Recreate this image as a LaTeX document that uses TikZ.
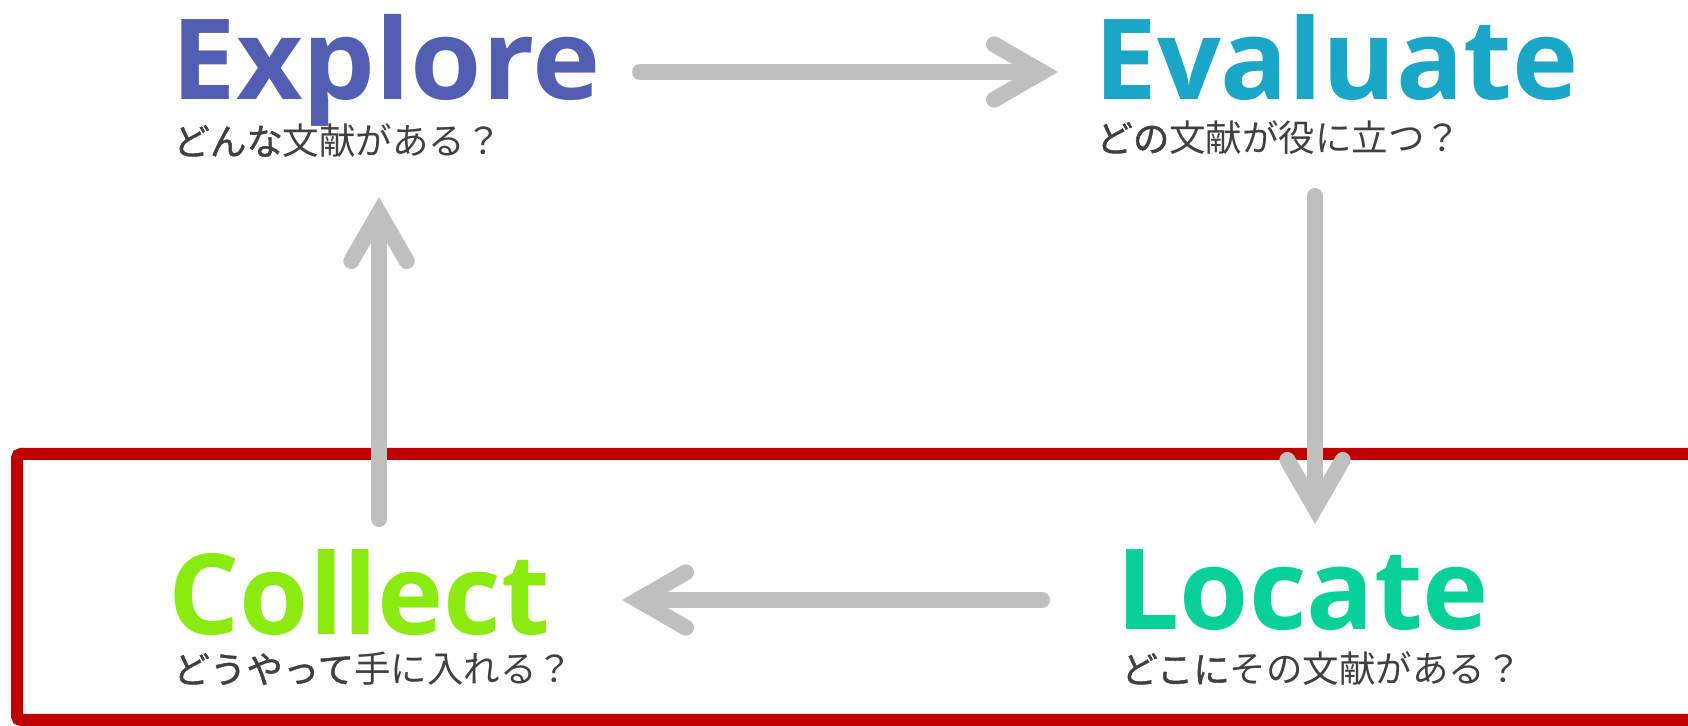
\documentclass[tikz,border=0pt]{standalone}
\usepackage{fontspec}
\usetikzlibrary{arrows.meta}
\IfFontExistsTF{Open Sans Bold}{\newfontfamily\titlefont{Open Sans Bold}}{%
  \IfFontExistsTF{Noto Sans Bold}{\newfontfamily\titlefont{Noto Sans Bold}}{%
    \newfontfamily\titlefont{Noto Sans}[FakeBold=3]}}
\newfontfamily\jpfont{Noto Sans CJK JP}
\newfontfamily\jpbold{Noto Sans CJK JP}[FakeBold=1.2]
\definecolor{cexplore}{HTML}{515EB2}
\definecolor{cevaluate}{HTML}{1AA7C7}
\definecolor{clocate}{HTML}{07D198}
\definecolor{ccollect}{HTML}{8BEA0F}
\definecolor{cred}{HTML}{C00000}
\definecolor{cgray}{HTML}{BFBFBF}
\definecolor{csub}{HTML}{404040}
\tikzset{
  ttl/.style={anchor=base west, inner sep=0pt, font=\titlefont\fontsize{56pt}{60pt}\selectfont},
  subt/.style={anchor=base west, inner sep=0pt, text=csub, font=\jpfont\fontsize{18.25pt}{20pt}\selectfont},
  flowarrow/.style={draw=cgray, line width=8pt, line cap=round,
    -{Straight Barb[length=24pt,width=27.7pt,line cap=round,line join=miter]}},
  framebox/.style={draw=cred, line width=6pt, rounded corners=2pt}
}
\begin{document}
\begin{tikzpicture}[x=0.5pt,y=-0.5pt]
\useasboundingbox (0,0) rectangle (1688,726);
\clip (0,0) rectangle (1688,726);
\draw[framebox] (17,454) rectangle (1760,720);

\node[ttl, text=cexplore, xscale=1.03] (explore) at (171,100) {Explore};
\node[subt] (exploreq) at (173,155) {{\jpbold どんな}文献がある？};
\node[ttl, text=cevaluate] (evaluate) at (1094,100) {Evaluate};
\node[subt] (evaluateq) at (1096,152) {{\jpbold どの}文献が役に立つ？};
\node[ttl, text=clocate] (locate) at (1116,630) {Locate};
\node[subt] (locateq) at (1121,683) {{\jpbold どこに}その文献がある？};
\node[ttl, text=ccollect] (collect) at (168,635) {Collect};
\node[subt] (collectq) at (173,683) {{\jpbold どうやって}手に入れる？};

\coordinate (a1s) at (640,72);   \coordinate (a1e) at (1058,72);
\coordinate (a2s) at (1315,196); \coordinate (a2e) at (1315,524);
\coordinate (a3s) at (1042,600); \coordinate (a3e) at (622,600);
\coordinate (a4s) at (379,519);  \coordinate (a4e) at (379,197);
\draw[flowarrow] (a1s) -- (a1e);
\draw[flowarrow] (a2s) -- (a2e);
\draw[flowarrow] (a3s) -- (a3e);
\draw[flowarrow] (a4s) -- (a4e);
\end{tikzpicture}
\end{document}
